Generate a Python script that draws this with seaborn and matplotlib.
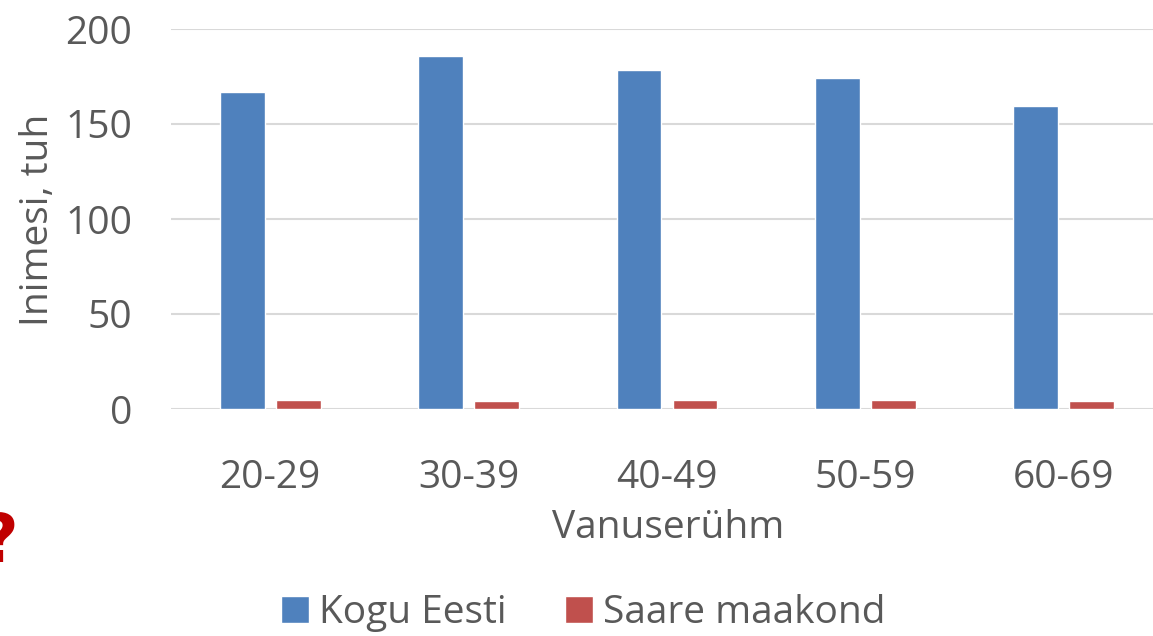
import seaborn as sns
import pandas as pd
import matplotlib.pyplot as plt
from matplotlib.patches import Patch

# andmed (tuhandetes)
vanuserühmad = ["20-29", "30-39", "40-49", "50-59", "60-69"]
kogu_eesti = [167.0, 185.8, 178.4, 174.0, 159.5]
saare_maakond = [4.5, 4.0, 4.6, 5.0, 4.0]
seeriad = ["Kogu Eesti", "Saare maakond"]
värvid = ["#4F81BD", "#C0504D"]

df = pd.DataFrame({
    "Vanuserühm": vanuserühmad * 2,
    "Väärtus": kogu_eesti + saare_maakond,
    "Seeria": [seeriad[0]] * 5 + [seeriad[1]] * 5,
})

sns.set_theme(style="white")
plt.rcParams["font.family"] = ["Open Sans", "DejaVu Sans"]
tekst = "#595959"
fs = 28

fig = plt.figure(figsize=(11.53, 6.36), dpi=100)
ax = fig.add_axes([171 / 1153, 227 / 636, 992 / 1153, 380 / 636])

sns.barplot(data=df, x="Vanuserühm", y="Väärtus", hue="Seeria",
            palette=värvid, width=0.565, gap=0.2, ax=ax,
            errorbar=None, legend=False, saturation=1)

ax.set_ylim(0, 200)
ax.set_yticks([0, 50, 100, 150, 200])
ax.yaxis.grid(True, color="#D9D9D9", linewidth=1.5)
ax.set_axisbelow(True)
sns.despine(ax=ax, left=True, bottom=True)
ax.axhline(0, color="#D9D9D9", linewidth=2, zorder=0.5)
ax.tick_params(axis="both", length=0, labelsize=fs, colors=tekst)
ax.tick_params(axis="y", pad=28)
ax.tick_params(axis="x", pad=36)
ax.set_xlabel("Vanuserühm", fontsize=fs, color=tekst)
ax.set_ylabel("Inimesi, tuh", fontsize=fs, color=tekst)
ax.xaxis.set_label_coords((668 - 171) / 992, -0.313)
ax.yaxis.set_label_coords((38 - 171) / 992, (409 - 220) / 380)
ax.xaxis.label.set_va("center")
ax.yaxis.label.set_va("center")

# legend all
käepidemed = [Patch(facecolor=c, label=s) for c, s in zip(värvid, seeriad)]
leg = fig.legend(handles=käepidemed, loc="center", bbox_to_anchor=(0.506, 0.036),
                 ncol=2, frameon=False, fontsize=fs, handlelength=0.72,
                 handleheight=0.72, handletextpad=0.26, columnspacing=1.5)
for t in leg.get_texts():
    t.set_color(tekst)

fig.text(18 / 1153, 0.146, "?", ha="right", va="center", fontsize=48,
         fontweight="bold", color="#C00000", family="DejaVu Sans")

fig.savefig("out.png", dpi=100)
